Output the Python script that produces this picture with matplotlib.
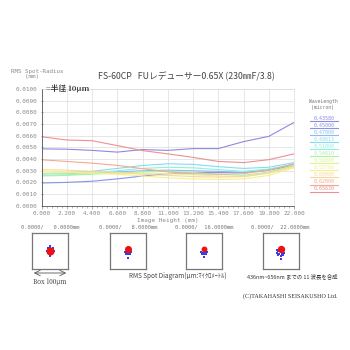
import matplotlib
matplotlib.use("Agg")
import matplotlib.pyplot as plt

plt.rcParams["font.family"] = ["Noto Sans CJK JP", "DejaVu Sans"]

# field positions (mm)
field = [0.0, 2.2, 4.4, 6.6, 8.8, 11.0, 13.2, 15.4, 17.6, 19.8, 22.0]

wavelengths = ["0.43580", "0.45000", "0.47000", "0.48613", "0.51000", "0.54610",
               "0.56000", "0.58760", "0.60000", "0.62000", "0.65630"]
colors = ["#9088e0", "#8494e8", "#8cbaf2", "#84dcf2", "#8ef0de", "#aef0a6",
          "#dcf294", "#f8f08a", "#f8d898", "#f4aa90", "#ee9090"]

# RMS spot radius, units of 0.001 mm
rms = [
    [4.88, 4.85, 4.75, 4.60, 4.82, 4.75, 4.90, 4.90, 5.50, 5.95, 7.15],
    [1.95, 2.00, 2.10, 2.30, 2.55, 2.75, 2.85, 2.85, 2.85, 3.05, 3.45],
    [2.75, 2.75, 2.80, 2.90, 3.00, 3.05, 3.00, 2.95, 2.85, 3.10, 3.55],
    [2.75, 2.80, 2.95, 3.20, 3.45, 3.60, 3.55, 3.35, 3.20, 3.30, 3.70],
    [2.60, 2.65, 2.80, 3.00, 3.20, 3.30, 3.25, 3.10, 2.95, 3.15, 3.55],
    [2.55, 2.60, 2.70, 2.80, 2.90, 2.95, 2.85, 2.70, 2.60, 2.90, 3.45],
    [2.80, 2.80, 2.80, 2.80, 2.80, 2.75, 2.65, 2.55, 2.50, 2.80, 3.30],
    [2.95, 2.90, 2.80, 2.70, 2.55, 2.40, 2.30, 2.25, 2.30, 2.60, 3.25],
    [3.10, 3.05, 2.95, 2.85, 2.70, 2.60, 2.50, 2.45, 2.50, 2.80, 3.40],
    [3.94, 3.80, 3.65, 3.46, 3.18, 2.90, 2.75, 2.70, 2.75, 3.05, 3.60],
    [5.92, 5.64, 5.58, 5.16, 4.73, 4.45, 4.15, 3.80, 3.70, 3.95, 4.45],
]

yticks = [0.0, 0.001, 0.002, 0.003, 0.004, 0.005, 0.006, 0.007, 0.008, 0.009, 0.010]

spot_labels = ["0.0000/   0.0000mm", "0.0000/   8.0000mm",
               "0.0000/  16.0000mm", "0.0000/  22.0000mm"]
# spot points in micron, box is 100 micron
spot_blue = [
    [(0, 10), (0, -10), (10, 0), (-10, 0), (7, 7), (-7, 7), (7, -7), (-7, -7), (0, 14), (0, -14)],
    [(-8, -3), (-4, -5), (0, -5), (4, -5), (8, -3), (-6, -8), (-2, -9), (2, -9), (6, -8), (0, -20)],
    [(-8, -3), (-4, -5), (0, -6), (4, -5), (8, -3), (-6, -9), (-2, -10), (2, -10), (6, -9), (0, -19)],
    [(-11, 1), (-7, -2), (0, -3), (7, -2), (11, 1), (-9, -7), (-4, -9), (4, -9), (9, -7),
     (-6, -13), (0, -14), (6, -13), (0, -22)],
]
spot_red = [(0, 0), (0, 4), (0, 5), (0, 6)]
spot_red_size = [34, 26, 18, 28]
spot_cx = [50.3, 127.8, 204.2, 280.5]

fig = plt.figure(figsize=(3.5, 3.5), dpi=100)
W = H = 350.0

# ---- main chart ----
ax = fig.add_axes([41.5 / W, 1 - 205.7 / H, 252.5 / W, 116.5 / H])
for vals, c in zip(rms, colors):
    ax.plot(field, [v / 1000 for v in vals], color=c, linewidth=0.8)
ax.set_xlim(0, 22)
ax.set_ylim(0, 0.010)
ax.set_xticks(field)
ax.set_xticklabels(["%.3f" % f for f in field])
ax.set_xticks([i * 0.44 for i in range(51)], minor=True)
ax.set_yticks(yticks)
ax.set_yticklabels(["%.4f" % t for t in yticks])
ax.grid(True, color="#dcdcdc", linewidth=0.5)
ax.tick_params(axis="both", labelsize=4.3, colors="#8a8a8a", length=2, width=0.5,
               pad=2, labelfontfamily="DejaVu Sans Mono")
ax.tick_params(axis="x", which="minor", length=1.2, width=0.4, colors="#8a8a8a")
ax.tick_params(axis="y", which="major", direction="inout")
for s in ["top", "right"]:
    ax.spines[s].set_color("#dcdcdc")
    ax.spines[s].set_linewidth(0.5)
for s in ["left", "bottom"]:
    ax.spines[s].set_color("#555555")
    ax.spines[s].set_linewidth(0.6)
ax.set_xlabel("Image Height (mm)", fontsize=4.3, color="#8a8a8a", labelpad=1,
              fontfamily="DejaVu Sans Mono")

# ---- overlay for texts ----
ov = fig.add_axes([0, 0, 1, 1])
ov.set_xlim(0, W)
ov.set_ylim(H, 0)
ov.axis("off")

ov.text(11, 74, "RMS Spot-Radius\n    (mm)", fontsize=4.2, color="#8a8a8a",
        family="DejaVu Sans Mono", va="center", ha="left", linespacing=1.0)
ov.text(186, 76, "FS-60CP   FUレデューサー0.65X (230㎜F/3.8)", fontsize=6.3,
        color="#444444", ha="center", va="center",
        family=["Noto Sans CJK JP", "DejaVu Sans"])
ov.text(46, 89, "=半径 10μm", fontsize=5.6, color="#333333", ha="left", va="center",
        family=["Noto Serif CJK JP", "Noto Sans CJK JP", "DejaVu Serif"], fontweight="bold")

# legend
ov.text(323, 104.5, "WaveLength\n(micron)", fontsize=3.4, color="#777777",
        family="DejaVu Sans Mono", ha="center", va="center", linespacing=1.0)
for i, (wl, c) in enumerate(zip(wavelengths, colors)):
    y = 118 + i * 7.1
    ov.text(324, y, wl, fontsize=3.6, color=c, family="DejaVu Sans Mono",
            ha="center", va="center")
    ov.plot([310, 338], [y + 2.6, y + 2.6], color=c, linewidth=0.8)

# ---- spot diagrams ----
for i in range(4):
    cx = spot_cx[i]
    ov.text(cx, 226.7, spot_labels[i], fontsize=3.9, color="#777777",
            family="DejaVu Sans Mono", ha="center", va="center")
    sa = fig.add_axes([(cx - 18) / W, 1 - 268.5 / H, 36 / W, 35.5 / H])
    sa.set_xlim(-50, 50)
    sa.set_ylim(-50, 50)
    sa.set_xticks([])
    sa.set_yticks([])
    for s in sa.spines.values():
        s.set_color("#777777")
        s.set_linewidth(0.9)
    bx = [p[0] for p in spot_blue[i]]
    by = [p[1] for p in spot_blue[i]]
    sa.scatter(bx, by, s=4, color="#3a3ae8", marker="s", linewidths=0, zorder=2)
    sa.scatter([spot_red[i][0]], [spot_red[i][1]], s=spot_red_size[i], color="#ee1111",
               linewidths=0, zorder=3)

ov.annotate("", xy=(31, 273), xytext=(69, 273),
            arrowprops=dict(arrowstyle="<->", color="#555555", lw=0.6))
ov.text(50, 283, "Box 100μm", fontsize=4.6, color="#333333", ha="center", va="center",
        family=["Noto Serif CJK JP", "DejaVu Serif"])
ov.text(178, 276, "RMS Spot Diagram(μm:ﾏｲｸﾛﾒｰﾄﾙ)", fontsize=4.6, color="#444444",
        ha="center", va="center", family=["Noto Sans CJK JP", "DejaVu Sans"])
ov.text(292, 276, "436nm~656nm までの 11 波長を合成", fontsize=3.9, color="#333333",
        ha="center", va="center", family=["Noto Sans CJK JP", "DejaVu Sans"])
ov.text(290, 296, "(C)TAKAHASHI SEISAKUSHO Ltd.", fontsize=4.4, color="#333333",
        ha="center", va="center", family=["Liberation Serif", "DejaVu Serif"])

fig.savefig("out.png", dpi=100)
